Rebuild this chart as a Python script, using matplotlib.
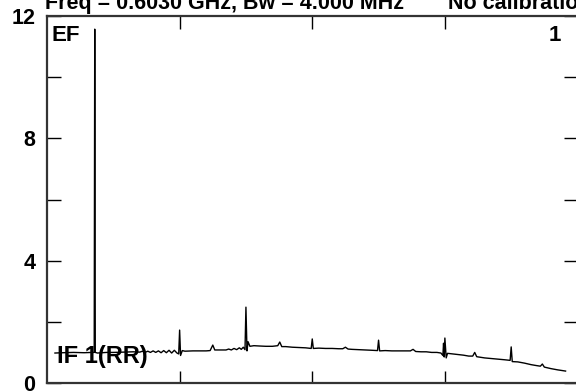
import matplotlib
matplotlib.use('Agg')
import matplotlib.pyplot as plt

plt.rcParams['font.family'] = 'Liberation Sans'

# ----------------------------------------------------------------------------
# Data
# ----------------------------------------------------------------------------
TITLE_LEFT  = 'Freq = 0.6030 GHz, Bw = 4.000 MHz'
TITLE_RIGHT = 'No calibration'
Y_TICKS  = [0, 2, 4, 6, 8, 10, 12]
Y_LABELS = ['0', '', '4', '', '8', '', '12']
X_TICKS  = [100, 200, 300]

trace_x = [6, 12, 20, 28, 34, 35.6, 36, 36.4, 38, 45, 50, 58, 65,
           70, 72, 74, 76, 78, 80, 82, 84, 86, 88, 90, 92, 94, 96, 98,
           99.3, 100, 100.7, 102, 104, 110, 115, 120, 123, 125, 126.5,
           130, 135, 137, 139, 141, 143, 145, 146.5, 148, 149.3, 150, 150.8,
           151.6, 153, 156, 160, 165, 170, 174, 175.5, 177, 180, 185,
           190, 195, 199.2, 200, 200.8, 205, 210, 215, 220, 223, 225, 227,
           230, 235, 240, 245, 249.2, 250, 250.8, 255, 260, 265, 270, 274,
           276, 278, 282, 286, 290, 294, 297, 298.5, 299, 299.5, 300, 301,
           302, 306, 310, 314, 318, 321, 322.5, 324, 330, 335, 340, 345,
           349.2, 350, 350.8, 355, 360, 365, 369, 372, 373.5, 375, 380,
           385, 388, 391]
trace_y = [0.98, 0.99, 1.00, 0.99, 1.00, 1.00, 11.57, 1.00, 0.98, 1.00, 1.00, 1.01, 1.02,
           1.01, 1.04, 1.00, 1.04, 1.00, 1.05, 1.00, 1.05, 0.99, 1.06, 0.99, 1.07, 0.98, 1.07, 0.98,
           0.95, 1.73, 0.90, 1.06, 1.04, 1.05, 1.05, 1.05, 1.06, 1.24, 1.08,
           1.08, 1.08, 1.11, 1.08, 1.13, 1.09, 1.15, 1.10, 1.17, 1.09, 2.48, 1.05,
           1.35, 1.20, 1.22, 1.21, 1.20, 1.20, 1.22, 1.34, 1.19, 1.19, 1.17,
           1.16, 1.15, 1.13, 1.44, 1.13, 1.14, 1.13, 1.13, 1.12, 1.12, 1.17, 1.11,
           1.10, 1.09, 1.08, 1.07, 1.06, 1.40, 1.05, 1.06, 1.05, 1.05, 1.05, 1.05,
           1.10, 1.03, 1.02, 1.02, 1.00, 1.00, 0.98, 0.90, 1.30, 0.85, 1.47, 0.82,
           0.97, 0.95, 0.93, 0.91, 0.88, 0.88, 1.00, 0.86, 0.82, 0.80, 0.78, 0.76,
           0.74, 1.18, 0.70, 0.69, 0.65, 0.60, 0.57, 0.55, 0.62, 0.52, 0.47,
           0.43, 0.41, 0.39]

# ----------------------------------------------------------------------------
# Figure
# ----------------------------------------------------------------------------
fig = plt.figure(figsize=(5.76, 3.92), dpi=100)
ax = fig.add_axes([47 / 576, 9 / 392, 530.5 / 576, 367 / 392])

ax.plot(trace_x, trace_y, color='black', lw=1.0, zorder=3)

ax.set_xlim(0, 400)
ax.set_ylim(0, 12)
ax.set_xticks(X_TICKS)
ax.set_xticklabels([])
ax.set_yticks(Y_TICKS)
ax.set_yticklabels(Y_LABELS, fontsize=15.5, fontweight='bold')
ax.tick_params(axis='y', direction='in', length=10, width=1, pad=8.5,
               left=True, right=True)
ax.tick_params(axis='x', direction='in', length=9, width=1,
               top=True, bottom=True)
for s in ax.spines.values():
    s.set_linewidth(1.6)
    s.set_color('#333333')

ax.text(0.009, 0.975, 'EF', transform=ax.transAxes, ha='left', va='top',
        fontsize=16, fontweight='bold', zorder=1)
ax.text(0.968, 0.975, '1', transform=ax.transAxes, ha='right', va='top',
        fontsize=16, fontweight='bold', zorder=1)
ax.text(0.019, 0.072, 'IF 1(RR)', transform=ax.transAxes, ha='left', va='center',
        fontsize=17, fontweight='bold', zorder=1)

fig.text(45 / 576, 1 - 9 / 392, TITLE_LEFT, ha='left', va='baseline',
         fontsize=15.5, fontweight='bold')
fig.text(448 / 576, 1 - 9 / 392, TITLE_RIGHT, ha='left', va='baseline',
         fontsize=15.5, fontweight='bold')

fig.savefig('out.png', dpi=100)
plt.close(fig)
